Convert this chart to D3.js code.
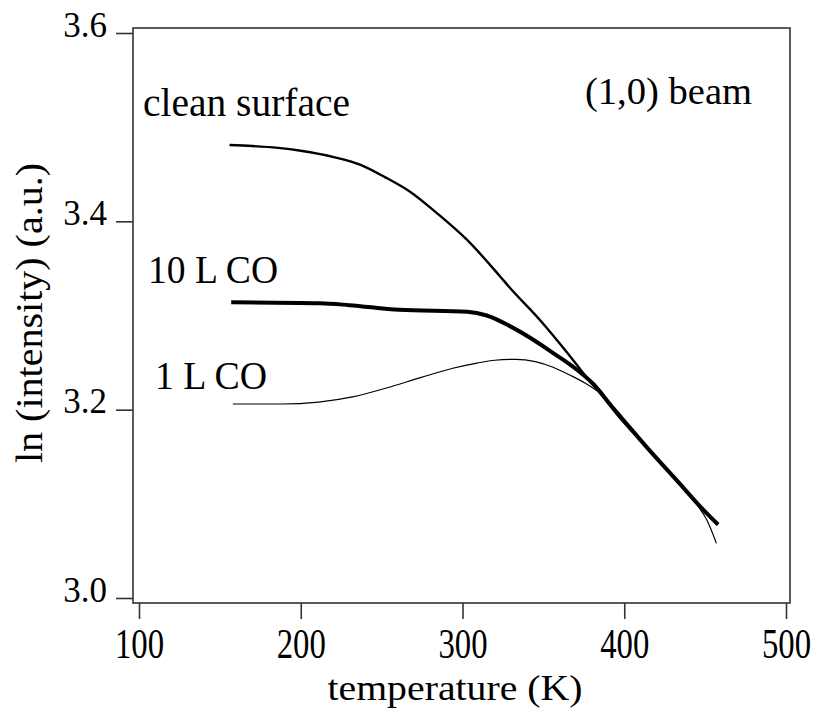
<!DOCTYPE html>
<html><head><meta charset="utf-8">
<script src="https://cdn.jsdelivr.net/npm/d3@7"></script>
<style>
html,body{margin:0;padding:0;background:#fff;}
text{font-family:"Liberation Serif","DejaVu Serif",serif;fill:#000;}
</style></head>
<body>
<svg id="chart" width="815" height="711"></svg>
<script>
// Data (temperature in K, ln(intensity) in a.u.)
const xTicks = [100, 200, 300, 400, 500];
const yTicks = [3.0, 3.2, 3.4, 3.6];
const xTickLabels = ["100", "200", "300", "400", "500"];
const yTickLabels = ["3.0", "3.2", "3.4", "3.6"];

const cleanT = [156, 170, 186, 200, 221, 237, 252, 268, 284, 303, 323, 329, 348, 365, 377, 385, 397, 414, 434, 447, 458];
const cleanV = [3.481, 3.480, 3.478, 3.475, 3.468, 3.460, 3.447, 3.431, 3.409, 3.380, 3.342, 3.330, 3.295, 3.260, 3.234, 3.218, 3.192, 3.160, 3.122, 3.097, 3.078];

const co10T = [157, 212, 230, 261, 303, 315, 329, 344, 357, 368, 381, 393, 398, 414, 434, 447, 458];
const co10V = [3.314, 3.313, 3.311, 3.306, 3.304, 3.300, 3.289, 3.274, 3.259, 3.246, 3.227, 3.202, 3.192, 3.160, 3.122, 3.097, 3.078];

const co1T = [158, 188, 211, 232, 253, 274, 294, 309, 320, 333, 345, 356, 366, 376, 386, 398, 414, 434, 445, 451, 457];
const co1V = [3.206, 3.206, 3.208, 3.2135, 3.223, 3.234, 3.244, 3.2495, 3.2525, 3.2535, 3.251, 3.245, 3.237, 3.228, 3.216, 3.192, 3.160, 3.121, 3.099, 3.083, 3.058];

const seriesNames = ["clean surface", "10 L CO", "1 L CO"];
const annotation = "(1,0) beam";
const xTitle = "temperature (K)";
const yTitle = "ln (intensity)  (a.u.)";

const svg = d3.select("#chart");
const x = d3.scaleLinear().domain([100, 500]).range([139, 786]);
const y = d3.scaleLinear().domain([3.0, 3.6]).range([598, 33]);

const fLeft = x(100) - 6, fRight = x(500) + 4, fTop = y(3.6) - 5, fBottom = y(3.0) + 5;

// frame
svg.append("rect").attr("x", fLeft).attr("y", fTop)
  .attr("width", fRight - fLeft).attr("height", fBottom - fTop)
  .attr("fill", "none").attr("stroke", "#333").attr("stroke-width", 1.6);

// x axis
const xAxis = d3.axisBottom(x).tickValues(xTicks).tickFormat((d, i) => xTickLabels[i])
  .tickSize(16).tickPadding(6);
const gx = svg.append("g").attr("transform", `translate(0,${fBottom})`).call(xAxis);
gx.select(".domain").remove();
gx.selectAll("line").attr("stroke", "#333").attr("stroke-width", 1.6);
gx.selectAll("text").attr("font-size", 42).attr("font-family", "Liberation Serif").attr("fill", "#000")
  .attr("y", 55).attr("dy", 0).attr("transform", "scale(0.78,1)");

// y axis
const yAxis = d3.axisLeft(y).tickValues(yTicks).tickFormat((d, i) => yTickLabels[i])
  .tickSize(17).tickPadding(9);
const gy = svg.append("g").attr("transform", `translate(${fLeft},0)`).call(yAxis);
gy.select(".domain").remove();
gy.selectAll("line").attr("stroke", "#333").attr("stroke-width", 1.6);
gy.selectAll("text").attr("font-size", 35).attr("font-family", "Liberation Serif").attr("fill", "#000")
  .attr("dy", 3);

// titles
svg.append("text").attr("x", 455).attr("y", 700).attr("text-anchor", "middle")
  .attr("font-size", 36).attr("textLength", 255).attr("lengthAdjust", "spacingAndGlyphs").text(xTitle);
svg.append("text").attr("transform", "translate(42,313) rotate(-90)").attr("text-anchor", "middle")
  .attr("font-size", 38).attr("textLength", 300).attr("lengthAdjust", "spacingAndGlyphs").text(yTitle);

// lines
const line = d3.line().x(d => x(d[0])).y(d => y(d[1])).curve(d3.curveMonotoneX);
const mk = (T, V) => T.map((t, i) => [t, V[i]]);
svg.append("path").datum(mk(co1T, co1V)).attr("d", line)
  .attr("fill", "none").attr("stroke", "#000").attr("stroke-width", 1.2);
svg.append("path").datum(mk(cleanT, cleanV)).attr("d", line)
  .attr("fill", "none").attr("stroke", "#000").attr("stroke-width", 2.4);
svg.append("path").datum(mk(co10T, co10V)).attr("d", line)
  .attr("fill", "none").attr("stroke", "#000").attr("stroke-width", 4);

// labels
svg.append("text").attr("x", 143).attr("y", 116).attr("font-size", 39)
  .attr("textLength", 207).attr("lengthAdjust", "spacingAndGlyphs").text(seriesNames[0]);
svg.append("text").attr("x", 148).attr("y", 283).attr("font-size", 39)
  .attr("textLength", 130).attr("lengthAdjust", "spacingAndGlyphs").text(seriesNames[1]);
svg.append("text").attr("x", 155).attr("y", 389).attr("font-size", 40)
  .attr("textLength", 112).attr("lengthAdjust", "spacingAndGlyphs").text(seriesNames[2]);
svg.append("text").attr("x", 585).attr("y", 104).attr("font-size", 37)
  .attr("textLength", 167).attr("lengthAdjust", "spacingAndGlyphs").text(annotation);
</script>
</body></html>
